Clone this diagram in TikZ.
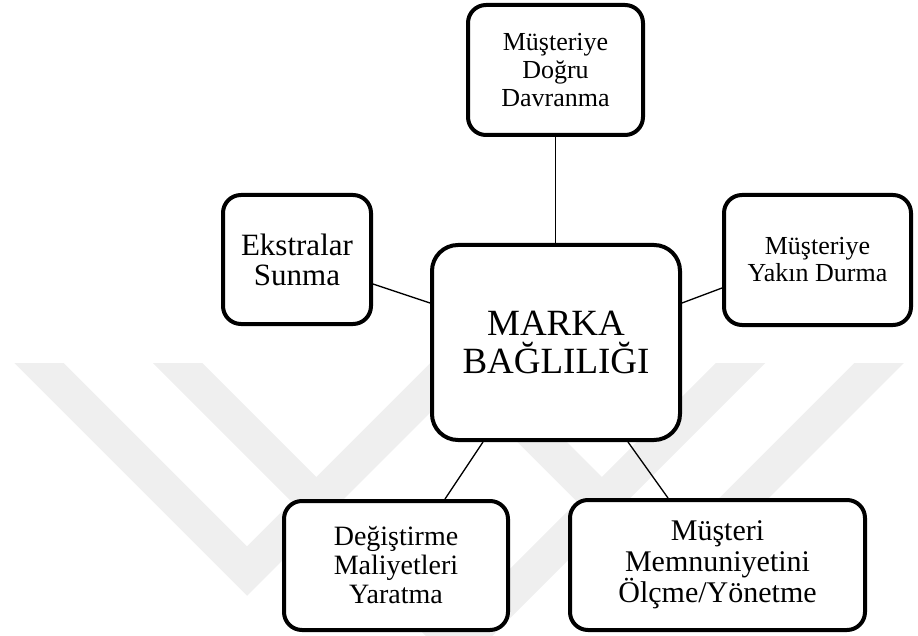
\documentclass[tikz,border=0pt]{standalone}
\usepackage{fontspec}
\setmainfont{Liberation Serif}
\definecolor{wmark}{RGB}{239,239,239}
\begin{document}
\begin{tikzpicture}[x=1pt,y=-1pt,
  box/.style={draw=black, line width=4pt, rounded corners=18pt, fill=white,
              inner sep=0pt, align=center},
  link/.style={draw=black, line width=1.3pt},
  stripe/.style={draw=wmark, line width=35pt, line join=miter, miter limit=4}]
\useasboundingbox (0,0) rectangle (918,636);

% faint chevron watermark in the lower half
\begin{scope}
  \clip (0,363) rectangle (918,636);
  \draw[stripe] (-61,263) -- (247,571) -- (459,359) -- (671,571) -- (979,263);
  \draw[stripe] (77.5,263) -- (459,644.5) -- (840.5,263);
\end{scope}

% central concept
\node[box, minimum width=248pt, minimum height=195pt, rounded corners=26pt,
      font=\fontsize{37}{38}\selectfont] (main) at (556,342.5) {MARKA\\BAĞLILIĞI};

% surrounding factors
\node[box, minimum width=175pt, minimum height=130pt,
      font=\fontsize{26}{28}\selectfont] (top) at (555.5,70) {Müşteriye\\Doğru\\Davranma};
\node[box, minimum width=148pt, minimum height=129pt,
      font=\fontsize{31}{30}\selectfont] (left) at (297,259.5) {Ekstralar\\Sunma};
\node[box, minimum width=187pt, minimum height=130pt,
      font=\fontsize{26}{27}\selectfont] (right) at (817.5,260) {Müşteriye\\Yakın Durma};
\node[box, minimum width=224pt, minimum height=129pt,
      font=\fontsize{28}{29}\selectfont] (bl) at (396,565.5) {Değiştirme\\Maliyetleri\\Yaratma};
\node[box, minimum width=295pt, minimum height=130pt,
      font=\fontsize{30}{31}\selectfont] (br) at (717.5,565) {Müşteri\\Memnuniyetini\\Ölçme/Yönetme};

% connectors
\draw[link] (top.south) -- (top.south |- main.north);
\draw[link] ([yshift=-24.5pt]left.east) -- ([yshift=39.5pt]main.west);
\draw[link] ([yshift=39.5pt]main.east) -- ([yshift=-28pt]right.west);
\draw[link] ([xshift=-73pt]main.south) -- ([xshift=49pt]bl.north);
\draw[link] ([xshift=72pt]main.south) -- ([xshift=-49.5pt]br.north);
\end{tikzpicture}
\end{document}
